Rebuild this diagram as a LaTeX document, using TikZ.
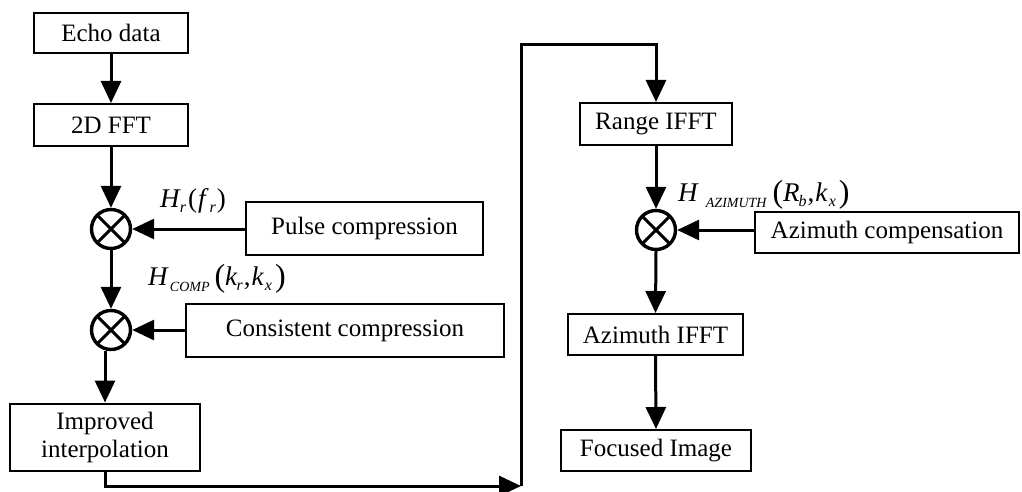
\documentclass[tikz,border=0pt]{standalone}
\usepackage{fontspec}
\setmainfont{Liberation Serif}
\usetikzlibrary{arrows.meta}
\newcommand{\Hsub}[1]{\raisebox{-5pt}{\fontsize{16}{16}\selectfont\itshape #1}}
\newcommand{\Hcap}[1]{\raisebox{-6pt}{\fontsize{14}{14}\selectfont\itshape #1}}
\newcommand{\bigpar}[1]{\raisebox{-1pt}{\fontsize{32}{32}\selectfont #1}}
\begin{document}
\begin{tikzpicture}[x=1pt,y=-1pt,
  box/.style={draw,line width=2pt,inner sep=0pt,font=\fontsize{25}{28}\selectfont,align=center},
  mult/.style={draw,circle,line width=3.4pt,minimum size=39pt,inner sep=0pt,
    path picture={\draw[line width=3pt] (path picture bounding box.north west)--(path picture bounding box.south east)
      (path picture bounding box.north east)--(path picture bounding box.south west);}},
  arr/.style={line width=3pt,-{Triangle[length=22pt,width=20pt]}},
  lab/.style={inner sep=0pt,anchor=base west,font=\fontsize{27}{30}\selectfont}]
\useasboundingbox (0,0) rectangle (1022,492);
% boxes
\node[box,minimum width=154pt,minimum height=40pt] (echo) at (111,33) {Echo data};
\node[box,minimum width=154pt,minimum height=42pt] (fft) at (111,125) {2D FFT};
\node[box,minimum width=237pt,minimum height=53pt] (pulse) at (364.5,228.5) {Pulse compression};
\node[box,minimum width=318pt,minimum height=53pt] (cons) at (345,330.5) {Consistent compression};
\node[box,minimum width=190pt,minimum height=67pt] (interp) at (105,437) {Improved\\interpolation};
\node[box,minimum width=152pt,minimum height=42pt] (range) at (656,124) {Range IFFT};
\node[box,minimum width=264pt,minimum height=41pt] (azc) at (887,232.5) {Azimuth compensation};
\node[box,minimum width=175pt,minimum height=41pt] (aziff) at (655.5,334.5) {Azimuth IFFT};
\node[box,minimum width=190pt,minimum height=41pt] (foc) at (656,450.5) {Focused Image};
% multipliers
\node[mult] (c1) at (111,229) {};
\node[mult] (c2) at (111,330) {};
\node[mult] (c3) at (656,230) {};
% labels
\node[lab] (l1) at (160,207) {\textit{H}\kern-1pt\Hsub{r}\kern2pt(\kern1pt\textit{f}\kern1pt\Hsub{r}\kern1pt)};
\node[lab] (l2) at (148,285) {\textit{H}\kern1pt\Hcap{COMP}\kern5pt\bigpar{(}\textit{k}\kern-1pt\Hsub{r}\kern1pt,\kern1pt\textit{k}\kern1pt\Hsub{x}\kern3pt\bigpar{)}};
\node[lab] (l3) at (678,201) {\textit{H}\kern7pt\Hcap{AZIMUTH}\kern6pt\bigpar{(}\textit{R}\kern-1pt\Hsub{b}\kern1pt,\kern1pt\textit{k}\kern1pt\Hsub{x}\kern3pt\bigpar{)}};
% coordinates
\coordinate (b1) at (521,486);
\coordinate (t1) at (521,45);
% connectors
\draw[arr] (echo.south) -- (fft.north);
\draw[arr] (fft.south -| c1) -- (c1.north);
\draw[arr] (c1.south) -- (c2.north);
\draw[arr] (c2.south -| interp.north) -- (interp.north);
\draw[arr] (pulse.west |- c1) -- (c1.east);
\draw[arr] (cons.west |- c2) -- (c2.east);
\draw[arr] (interp.south) |- (b1);
\draw[arr] (b1) -- (t1) -| (range.north);
\draw[arr] (range.south) -- (c3.north);
\draw[arr] (azc.west |- c3) -- (c3.east);
\draw[arr] (c3.south) -- (aziff.north);
\draw[arr] (aziff.south) -- (foc.north);
\end{tikzpicture}
\end{document}
